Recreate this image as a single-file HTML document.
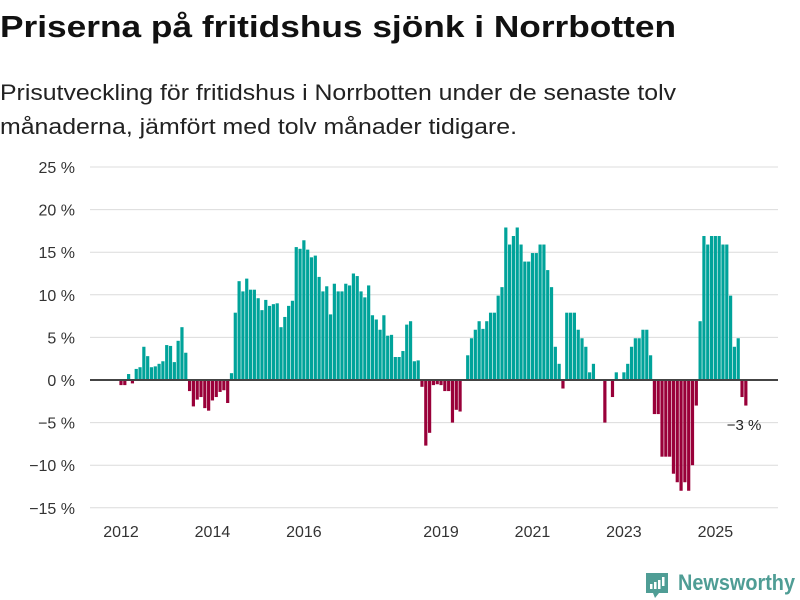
<!DOCTYPE html>
<html><head><meta charset="utf-8"><style>
html,body{margin:0;padding:0;background:#fff;}
svg{display:block;font-family:"Liberation Sans",sans-serif;}
</style></head><body>
<svg width="800" height="600" viewBox="0 0 800 600">
<text x="0" y="37" font-size="31" font-weight="bold" fill="#111" textLength="676" lengthAdjust="spacingAndGlyphs">Priserna på fritidshus sjönk i Norrbotten</text>
<text x="0" y="100" font-size="22" fill="#222" textLength="676" lengthAdjust="spacingAndGlyphs">Prisutveckling för fritidshus i Norrbotten under de senaste tolv</text>
<text x="0" y="134" font-size="22" fill="#222" textLength="517" lengthAdjust="spacingAndGlyphs">månaderna, jämfört med tolv månader tidigare.</text>
<g id="grid"></g>
<g id="bars"></g>
<line x1="90" x2="778" y1="380" y2="380" stroke="#444" stroke-width="2"/>
<g id="xlabels"></g>
<text x="744" y="430" font-size="15" fill="#222" text-anchor="middle">−3 %</text>
<g>
<path d="M646 573 h22 v20 h-9 l-4 5 l-2 -5 h-7 z" fill="#4f9d95"/>
<rect x="650" y="584" width="2.5" height="5" fill="#fff"/>
<rect x="654" y="582" width="2.5" height="7" fill="#fff"/>
<rect x="658" y="580" width="2.5" height="9" fill="#fff"/>
<rect x="662" y="577" width="2.5" height="9" fill="#fff"/>
<text x="678" y="590" font-size="22" font-weight="bold" fill="#4f9d95" textLength="117" lengthAdjust="spacingAndGlyphs">Newsworthy</text>
</g>
</svg>
<script>
const startYear = 2012;
const values = [-0.6,-0.6,0.7,-0.4,1.3,1.5,3.9,2.8,1.5,1.6,1.9,2.2,4.1,4.0,2.1,4.6,6.2,3.2,-1.3,-3.1,-2.3,-2.0,-3.3,-3.6,-2.4,-2.0,-1.4,-1.2,-2.7,0.8,
7.9,11.6,10.4,11.9,10.6,10.6,9.6,8.2,9.4,8.7,8.9,9.0,6.2,7.4,8.7,9.3,15.6,15.4,16.4,15.3,14.4,14.6,12.1,10.4,11.0,7.7,11.3,10.4,10.4,11.3,11.1,12.5,12.2,10.4,9.7,11.1,7.6,7.1,5.9,7.6,
5.2,5.3,2.7,2.7,3.4,6.5,6.9,2.2,2.3,-0.8,-7.7,-6.2,-0.6,-0.5,-0.6,-1.3,-1.3,-5.0,-3.5,-3.7,0,2.9,4.9,5.9,6.9,6.0,6.9,7.9,7.9,9.9,10.9,17.9,15.9,16.9,17.9,15.9,13.9,13.9,14.9,14.9,15.9,15.9,12.9,10.9,
3.9,1.9,-1.0,7.9,7.9,7.9,5.9,4.9,3.9,0.9,1.9,0,0,-5.0,0,-2.0,0.9,0,0.9,1.9,3.9,4.9,4.9,5.9,5.9,2.9,-4,-4,-9,-9,-9,-11,-12,-13,-12,-13,-10,-3,6.9,16.9,15.9,16.9,16.9,16.9,15.9,15.9,9.9,3.9,4.9,-2.0,-3.0];
const yTicks = [25,20,15,10,5,0,-5,-10,-15];
const xTickYears = [2012,2014,2016,2019,2021,2023,2025];
const NS='http://www.w3.org/2000/svg';
const y = v => 380 - v*8.52;
const x = i => 121 + i*3.81;
const xYear = yr => x((yr-startYear)*12);
const grid=document.getElementById('grid');
yTicks.forEach(t=>{
  const l=document.createElementNS(NS,'line');
  l.setAttribute('x1',90);l.setAttribute('x2',778);l.setAttribute('y1',y(t));l.setAttribute('y2',y(t));
  l.setAttribute('stroke','#dcdcdc');l.setAttribute('stroke-width','1');
  
  
  grid.appendChild(l);
  const tx=document.createElementNS(NS,'text');
  tx.setAttribute('x',75);tx.setAttribute('y',y(t)+6);tx.setAttribute('text-anchor','end');
  tx.setAttribute('font-size','16');tx.setAttribute('fill','#333');
  tx.textContent=(t<0?'−'+(-t):t)+' %';
  
  
  grid.appendChild(tx);
});
const bars=document.getElementById('bars');
values.forEach((v,i)=>{
  if(v===0) return;
  const r=document.createElementNS(NS,'rect');
  r.setAttribute('x',x(i)-1.6);r.setAttribute('width',3.2);
  r.setAttribute('y',Math.min(y(v),380));r.setAttribute('height',Math.abs(y(v)-380));
  r.setAttribute('fill',v>0?'#00a39a':'#990039');
  
  
  bars.appendChild(r);
});
const xl=document.getElementById('xlabels');
xTickYears.forEach(yr=>{
  const tx=document.createElementNS(NS,'text');
  tx.setAttribute('x',xYear(yr));tx.setAttribute('y',537);tx.setAttribute('text-anchor','middle');
  tx.setAttribute('font-size','16');tx.setAttribute('fill','#333');
  tx.textContent=yr;
  
  
  xl.appendChild(tx);
});
</script>
</body></html>
